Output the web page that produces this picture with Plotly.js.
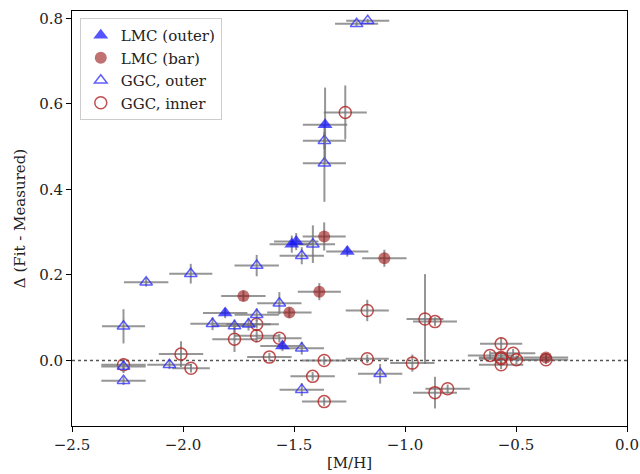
<!DOCTYPE html>
<html>
<head>
<meta charset="utf-8">
<script src="https://cdn.plot.ly/plotly-3.0.1.min.js"></script>
<style>html,body{margin:0;padding:0;background:#fff;}#chart{width:640px;height:474px;}</style>
</head>
<body>
<div id="chart"></div>
<script>
// LMC (outer) — filled blue triangles
const lmcOuterX    = [-1.36, -1.51, -1.49, -1.26, -1.81, -1.552];
const lmcOuterY    = [0.551, 0.272, 0.278, 0.255, 0.111, 0.034];
const lmcOuterXErr = [0.1, 0.1, 0.1, 0.095, 0.1, 0.1];
const lmcOuterYErr = [0.087, 0.02, 0.02, 0.012, 0.012, 0.012];

// LMC (bar) — filled red circles
const lmcBarX    = [-1.364, -1.093, -1.386, -1.728, -1.521, -0.365];
const lmcBarY    = [0.290, 0.239, 0.161, 0.151, 0.112, 0.007];
const lmcBarXErr = [0.097, 0.1, 0.097, 0.1, 0.1, 0.1];
const lmcBarYErr = [0.033, 0.02, 0.02, 0.012, 0.012, 0.01];

// GGC, outer — open blue triangles
const ggcOuterX    = [-1.218, -1.168, -1.363, -1.363, -1.415, -1.465, -1.668, -1.965, -2.166, -2.268, -2.268, -2.268, -2.061, -1.867, -1.768, -1.705, -1.668, -1.566, -1.112, -1.465, -1.465];
const ggcOuterY    = [0.787, 0.794, 0.514, 0.461, 0.272, 0.245, 0.222, 0.203, 0.183, 0.080, -0.014, -0.047, -0.010, 0.086, 0.081, 0.085, 0.107, 0.134, -0.031, -0.068, 0.029];
const ggcOuterXErr = [0.097, 0.097, 0.097, 0.097, 0.1, 0.1, 0.1, 0.097, 0.1, 0.097, 0.1, 0.1, 0.1, 0.1, 0.1, 0.1, 0.1, 0.1, 0.1, 0.1, 0.1];
const ggcOuterYErr = [0.005, 0.005, 0.02, 0.09, 0.044, 0.02, 0.025, 0.023, 0.01, 0.04, 0.015, 0.01, 0.01, 0.015, 0.015, 0.015, 0.015, 0.026, 0.023, 0.015, 0.015];

// GGC, inner — open red circles
const ggcInnerX    = [-1.269, -2.268, -2.009, -1.964, -1.768, -1.668, -1.668, -1.566, -1.611, -1.364, -1.170, -1.170, -1.416, -1.364, -0.910, -0.865, -0.967, -0.865, -0.808, -0.567, -0.617, -0.567, -0.567, -0.567, -0.513, -0.498, -0.365];
const ggcInnerY    = [0.580, -0.010, 0.015, -0.018, 0.050, 0.085, 0.058, 0.052, 0.008, 0.000, 0.004, 0.117, -0.037, -0.096, 0.097, 0.091, -0.006, -0.075, -0.066, 0.039, 0.012, 0.007, 0.004, -0.010, 0.017, 0.002, 0.002];
const ggcInnerXErr = [0.097, 0.1, 0.1, 0.085, 0.1, 0.1, 0.1, 0.1, 0.1, 0.1, 0.097, 0.097, 0.1, 0.1, 0.083, 0.099, 0.1, 0.099, 0.1, 0.095, 0.1, 0.1, 0.1, 0.1, 0.1, 0.1, 0.1];
const ggcInnerYErr = [0.063, 0.015, 0.03, 0.01, 0.03, 0.01, 0.015, 0.01, 0.01, 0.01, 0.01, 0.025, 0.01, 0.01, 0.105, 0.01, 0.02, 0.037, 0.01, 0.015, 0.01, 0.01, 0.01, 0.01, 0.01, 0.01, 0.01];

const xTicks = [-2.5, -2.0, -1.5, -1.0, -0.5, 0.0];
const yTicks = [0.0, 0.2, 0.4, 0.6, 0.8];

const FONT = 'DejaVu Serif, Liberation Serif, serif';
const ECOL = 'rgba(115,115,115,0.75)';

function errs(xe, ye) {
  return {
    error_x: {type: 'data', array: xe, visible: true, color: ECOL, thickness: 2, width: 0},
    error_y: {type: 'data', array: ye, visible: true, color: ECOL, thickness: 2, width: 0}
  };
}

const traces = [
  Object.assign({
    x: ggcInnerX, y: ggcInnerY, type: 'scatter', mode: 'markers', name: 'GGC, inner', legendrank: 4,
    marker: {symbol: 'circle-open', size: 12, color: 'rgba(178,34,34,0.8)', line: {width: 1.5, color: 'rgba(178,34,34,0.8)'}}
  }, errs(ggcInnerXErr, ggcInnerYErr)),
  Object.assign({
    x: ggcOuterX, y: ggcOuterY, type: 'scatter', mode: 'markers', name: 'GGC, outer', legendrank: 3,
    marker: {symbol: 'triangle-up-open', size: 11, color: 'rgba(40,40,255,0.75)', line: {width: 1.5, color: 'rgba(40,40,255,0.75)'}}
  }, errs(ggcOuterXErr, ggcOuterYErr)),
  Object.assign({
    x: lmcBarX, y: lmcBarY, type: 'scatter', mode: 'markers', name: 'LMC (bar)', legendrank: 2,
    marker: {symbol: 'circle', size: 12, color: 'rgba(150,20,20,0.6)', line: {width: 0}}
  }, errs(lmcBarXErr, lmcBarYErr)),
  Object.assign({
    x: lmcOuterX, y: lmcOuterY, type: 'scatter', mode: 'markers', name: 'LMC (outer)', legendrank: 1,
    marker: {symbol: 'triangle-up', size: 13, color: 'rgba(20,20,255,0.72)', line: {width: 0}}
  }, errs(lmcOuterXErr, lmcOuterYErr))
];

const layout = {
  width: 640, height: 474,
  margin: {l: 72, r: 13, t: 11, b: 48},
  paper_bgcolor: '#fff', plot_bgcolor: '#fff',
  font: {family: FONT, size: 15, color: '#222'},
  showlegend: true,
  legend: {
    x: 0.014, y: 0.983, xanchor: 'left', yanchor: 'top',
    bgcolor: 'rgba(255,255,255,0.85)', bordercolor: '#cccccc', borderwidth: 1,
    font: {family: FONT, size: 15, color: '#222'},
    tracegroupgap: 0
  },
  xaxis: {
    range: [-2.5, 0.0], tickvals: xTicks, tickformat: '.1f',
    showgrid: false, zeroline: false,
    showline: true, mirror: true, linecolor: '#000', linewidth: 1,
    ticks: 'outside', ticklen: 5, tickcolor: '#000',
    tickfont: {family: FONT, size: 15, color: '#222'},
    title: {text: '[M/H]', font: {family: FONT, size: 15, color: '#222'}, standoff: 4}
  },
  yaxis: {
    range: [-0.153, 0.817], tickvals: yTicks, tickformat: '.1f',
    showgrid: false, zeroline: false,
    showline: true, mirror: true, linecolor: '#000', linewidth: 1,
    ticks: 'outside', ticklen: 5, tickcolor: '#000',
    tickfont: {family: FONT, size: 15, color: '#222'},
    title: {text: 'Δ (Fit - Measured)', font: {family: FONT, size: 15, color: '#222'}, standoff: 9}
  },
  shapes: [{
    type: 'line', xref: 'paper', x0: 0, x1: 1, yref: 'y', y0: 0, y1: 0,
    line: {color: '#555', width: 1.5, dash: 'dot'}, layer: 'below'
  }]
};

Plotly.newPlot('chart', traces, layout, {displayModeBar: false, staticPlot: true});
</script>
</body>
</html>
